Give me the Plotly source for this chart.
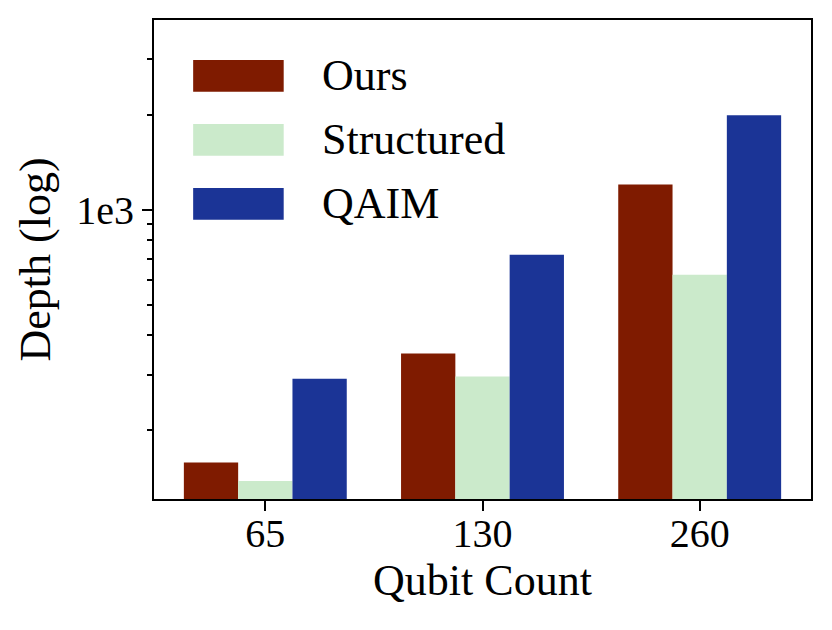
import math
import plotly.graph_objects as go

# qubit count groups
qubits = ['65', '130', '260']

# circuit depth per method
depth_ours = [158, 350, 1203]
depth_structured = [138, 296, 622]
depth_qaim = [291, 720, 1995]

names = ['Ours', 'Structured', 'QAIM']
colors = ['#7f1b00', '#cbeacb', '#1b3496']

FONT = 'Liberation Serif'

fig = go.Figure()
for name, vals, c in zip(names, [depth_ours, depth_structured, depth_qaim], colors):
    fig.add_trace(go.Bar(
        name=name, x=qubits, y=vals, marker=dict(color=c, line=dict(width=0)),
        showlegend=False,
    ))

# legend drawn by hand: plotly's bar swatches are too small compared to the reference
for i, (name, c) in enumerate(zip(names, colors)):
    y_top = 0.9165 - i * 0.1336
    fig.add_shape(type='rect', xref='paper', yref='paper', x0=0.0596, x1=0.1974,
                  y0=y_top - 0.0662, y1=y_top, fillcolor=c, line=dict(width=0), layer='above')
    fig.add_annotation(xref='paper', yref='paper', x=0.2532, y=y_top - 0.0331, text=name,
                       showarrow=False, xanchor='left', yanchor='middle',
                       font=dict(family=FONT, size=44, color='black'))

axis_common = dict(showline=True, linecolor='black', linewidth=2, mirror=True,
                   ticks='outside', ticklen=10, tickwidth=2, tickcolor='black',
                   showgrid=False, zeroline=False,
                   tickfont=dict(family=FONT, size=40, color='black'))

fig.update_layout(
    width=832, height=630,
    margin=dict(l=154, r=21, t=20, b=131),
    plot_bgcolor='white', paper_bgcolor='white',
    barmode='group', bargap=0.25, bargroupgap=0,
    xaxis=dict(type='category', range=[-0.5125, 2.5125], ticklabelstandoff=-12,
               title=dict(text='Qubit Count', font=dict(family=FONT, size=44, color='black'), standoff=2),
               **axis_common),
    yaxis=dict(type='log', range=[math.log10(121), math.log10(4000)],
               tickvals=[1000], ticktext=['1e3'],
               minor=dict(tickvals=[200, 300, 400, 500, 600, 700, 800, 900, 2000, 3000],
                          ticks='outside', ticklen=5, tickwidth=1.5, tickcolor='black'),
               title=dict(text='Depth (log)', font=dict(family=FONT, size=44, color='black'), standoff=12),
               **axis_common),
)

# page body keeps an 8px default margin, drop it so the figure sits at the window corner
fig.write_html('out.html', config={'displayModeBar': False},
               post_script="document.body.style.margin='0';")
